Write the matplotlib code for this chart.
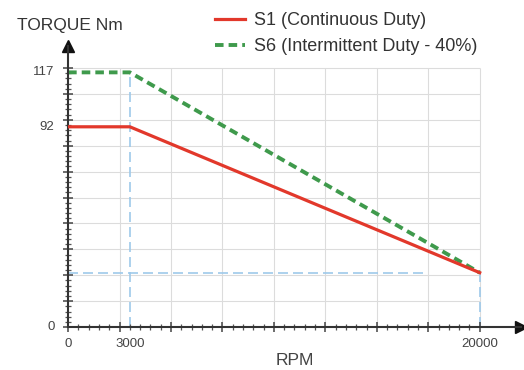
import matplotlib.pyplot as plt
import numpy as np

plt.rcParams['font.family'] = ['Liberation Sans', 'DejaVu Sans']

# data
rpm = [0, 3000, 20000]
s1_torque = [92, 92, 25]
s6_torque = [117, 117, 25]
s1_label = "S1 (Continuous Duty)"
s6_label = "S6 (Intermittent Duty - 40%)"
x_tick_vals = [0, 3000, 20000]
x_tick_text = ["0", "3000", "20000"]
y_tick_vals = [0, 92, 117]
y_tick_text = ["0", "92", "117"]
ref_torque = 25
ref_rpm_end = 17500

fig = plt.figure(figsize=(5.24, 3.70), dpi=100)
ax = fig.add_axes([0.13, 0.116, 0.864, 0.759])
ax.set_xlim(0, 22000)
ax.set_ylim(0, 129)

# grid only inside the 0..20000 / 0..119 box
gx = np.arange(2500, 20001, 2500)
gy = np.arange(11.9, 120, 11.9)
ax.vlines(gx, 0, 119, color='#dcdcdc', lw=0.8, zorder=0)
ax.hlines(gy, 0, 20000, color='#dcdcdc', lw=0.8, zorder=0)

# blue helper lines
blue = '#9ec9ea'
ax.plot([0, ref_rpm_end], [ref_torque, ref_torque], color=blue, lw=1.2, ls=(0, (6, 3)), zorder=1)
ax.plot([rpm[1], rpm[1]], [0, s6_torque[1]], color=blue, lw=1.2, ls=(0, (6, 3)), zorder=1)
ax.plot([rpm[2], rpm[2]], [0, s1_torque[2]], color=blue, lw=1.2, ls=(0, (6, 3)), zorder=1)

l1, = ax.plot(rpm, s1_torque, color='#e2382b', lw=2.3, zorder=3)
l2, = ax.plot(rpm, s6_torque, color='#3f9a4c', lw=2.8, ls=(0, (2.2, 1.3)), zorder=2)

# axes style
for s in ['top', 'right']:
    ax.spines[s].set_visible(False)
for s in ['left', 'bottom']:
    ax.spines[s].set_color('#333333')
    ax.spines[s].set_linewidth(1.5)
ax.plot(1, 0, '>', color='#111111', ms=8, transform=ax.transAxes, clip_on=False)
ax.plot(0, 1, '^', color='#111111', ms=8, transform=ax.transAxes, clip_on=False)

ax.set_xticks(np.arange(0, 20001, 2500))
ax.set_xticks(np.arange(0, 20001, 500), minor=True)
ax.set_yticks(np.arange(0, 120, 11.9))
ax.set_yticks(np.arange(0, 120, 11.9 / 5), minor=True)
ax.set_xticklabels([])
ax.set_yticklabels([])
ax.tick_params(which='major', direction='inout', length=7, width=1.1, color='#444444')
ax.tick_params(which='minor', direction='inout', length=4, width=0.9, color='#555555')

for v, t in zip(x_tick_vals, x_tick_text):
    ax.text(v, -0.04, t, transform=ax.get_xaxis_transform(),
            ha='center', va='top', fontsize=9.5, color='#444444')
for v, t in zip(y_tick_vals, y_tick_text):
    ax.text(-0.03, v, t, transform=ax.get_yaxis_transform(),
            ha='right', va='center', fontsize=9.5, color='#444444')

fig.text(0.032, 0.93, "TORQUE Nm", fontsize=12.5, color='#333333', va='center')
fig.text(0.563, 0.027, "RPM", fontsize=12.5, color='#444444', ha='center', va='center')

ax.legend([l1, l2], [s1_label, s6_label], loc='upper left', bbox_to_anchor=(0.41, 0.968),
          bbox_transform=fig.transFigure, frameon=False, fontsize=13, handlelength=1.65,
          handletextpad=0.5, labelspacing=0.5, borderpad=0, borderaxespad=0,
          labelcolor='#333333')

fig.savefig('out.png', dpi=100)
